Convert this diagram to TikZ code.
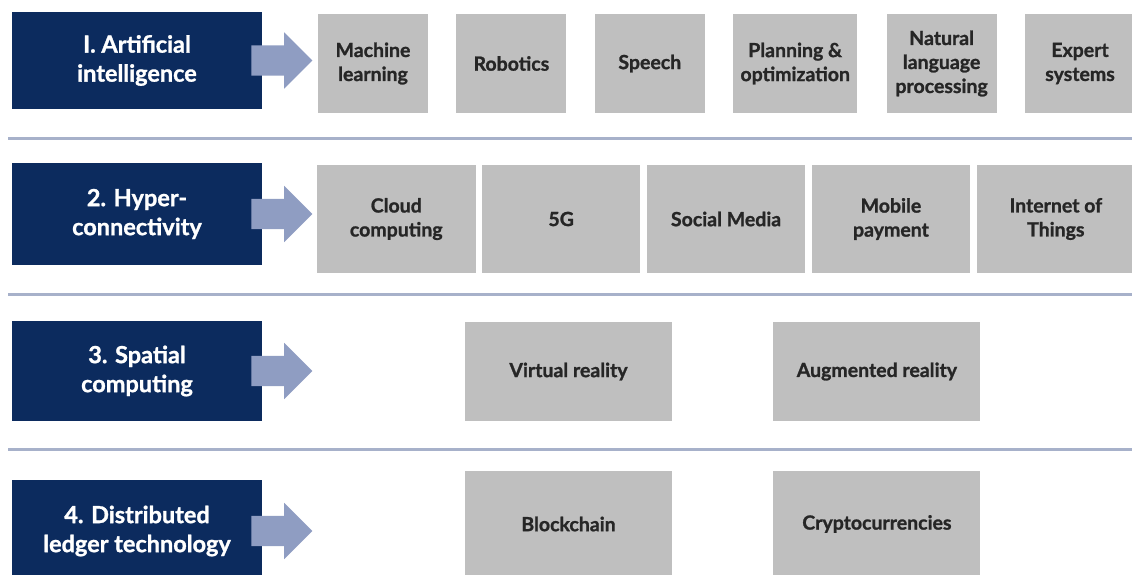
\documentclass[tikz,border=0pt]{standalone}
\usepackage{fontspec}
\setmainfont{Lato}[BoldFeatures={FakeBold=1.2}]
\usetikzlibrary{positioning,shapes.arrows}
\definecolor{navy}{HTML}{0C2B5E}
\definecolor{arrowblue}{HTML}{8F9DC2}
\definecolor{boxgrey}{HTML}{BFBFBF}
\definecolor{rulegrey}{HTML}{A7B1CA}
\tikzset{
  area/.style={fill=navy,text=white,font=\fontsize{23.5}{29}\selectfont\bfseries,
    align=center,minimum width=250pt,inner sep=0pt},
  item/.style={fill=boxgrey,text=black!85,font=\fontsize{19.5}{24}\selectfont\bfseries,
    align=center,inner sep=0pt},
  fatarrow/.style={single arrow,fill=arrowblue,inner xsep=0pt,inner ysep=15pt,
    single arrow head extend=13pt,minimum height=61pt,anchor=tail},
  sepline/.style={rulegrey,line width=3pt},
  aiitem/.style={item,minimum width=110pt,minimum height=99pt},
  hcitem/.style={item,minimum width=158.5pt,minimum height=108pt},
  scitem/.style={item,minimum width=207pt,minimum height=99pt},
  dltitem/.style={item,minimum width=207pt,minimum height=106pt}
}

\begin{document}
\begin{tikzpicture}[x=1pt,y=-1pt]
  \useasboundingbox (0,0) rectangle (1132,574);
  % 1. artificial intelligence
  \node[area,minimum height=97pt] (ai) at (137,60.5) {I. Artificial\\intelligence};
  \node[fatarrow] (aiarrow) at ([xshift=-11pt]ai.east) {};
  \node[aiitem] (ml) at (373,63.5) {Machine\\learning};
  \node[aiitem, right=28pt of ml] (rob) {Robotics};
  \node[aiitem, right=28pt of rob] (speech) {Speech};
  \node[aiitem, minimum width=124pt, right=28pt of speech] (plan) {Planning \&\\optimization};
  \node[aiitem, right=29pt of plan] (nlp) {Natural\\language\\processing};
  \node[aiitem, right=28pt of nlp] (expert) {Expert\\systems};
  \draw[sepline] (8,138) -- (1132,138);
  % 2. hyper-connectivity
  \node[area,minimum height=102pt] (hc) at (137,214) {2. Hyper-\\connectivity};
  \node[fatarrow] (hcarrow) at ([xshift=-11pt]hc.east) {};
  \node[hcitem] (cloud) at (396.25,219) {Cloud\\computing};
  \node[hcitem, right=6pt of cloud] (fiveg) {5G};
  \node[hcitem, right=6pt of fiveg] (social) {Social Media};
  \node[hcitem, right=6pt of social] (mobile) {Mobile\\payment};
  \node[hcitem, right=6pt of mobile] (iot) {Internet of\\Things};
  \draw[sepline] (8,294) -- (1132,294);
  % 3. spatial computing
  \node[area,minimum height=100pt] (sc) at (137,371) {3. Spatial\\computing};
  \node[fatarrow] (scarrow) at ([xshift=-11pt]sc.east) {};
  \node[scitem] (vr) at (568.5,371.5) {Virtual reality};
  \node[scitem, right=101pt of vr] (ar) {Augmented reality};
  \draw[sepline] (8,449) -- (1132,449);
  % 4. distributed ledger technology
  \node[area,minimum height=102pt] (dlt) at (137,531) {4. Distributed\\ledger technology};
  \node[fatarrow] (dltarrow) at ([xshift=-11pt]dlt.east) {};
  \node[dltitem] (chain) at (568.5,524) {Blockchain};
  \node[dltitem, right=101pt of chain] (crypto) {Cryptocurrencies};
\end{tikzpicture}
\end{document}
